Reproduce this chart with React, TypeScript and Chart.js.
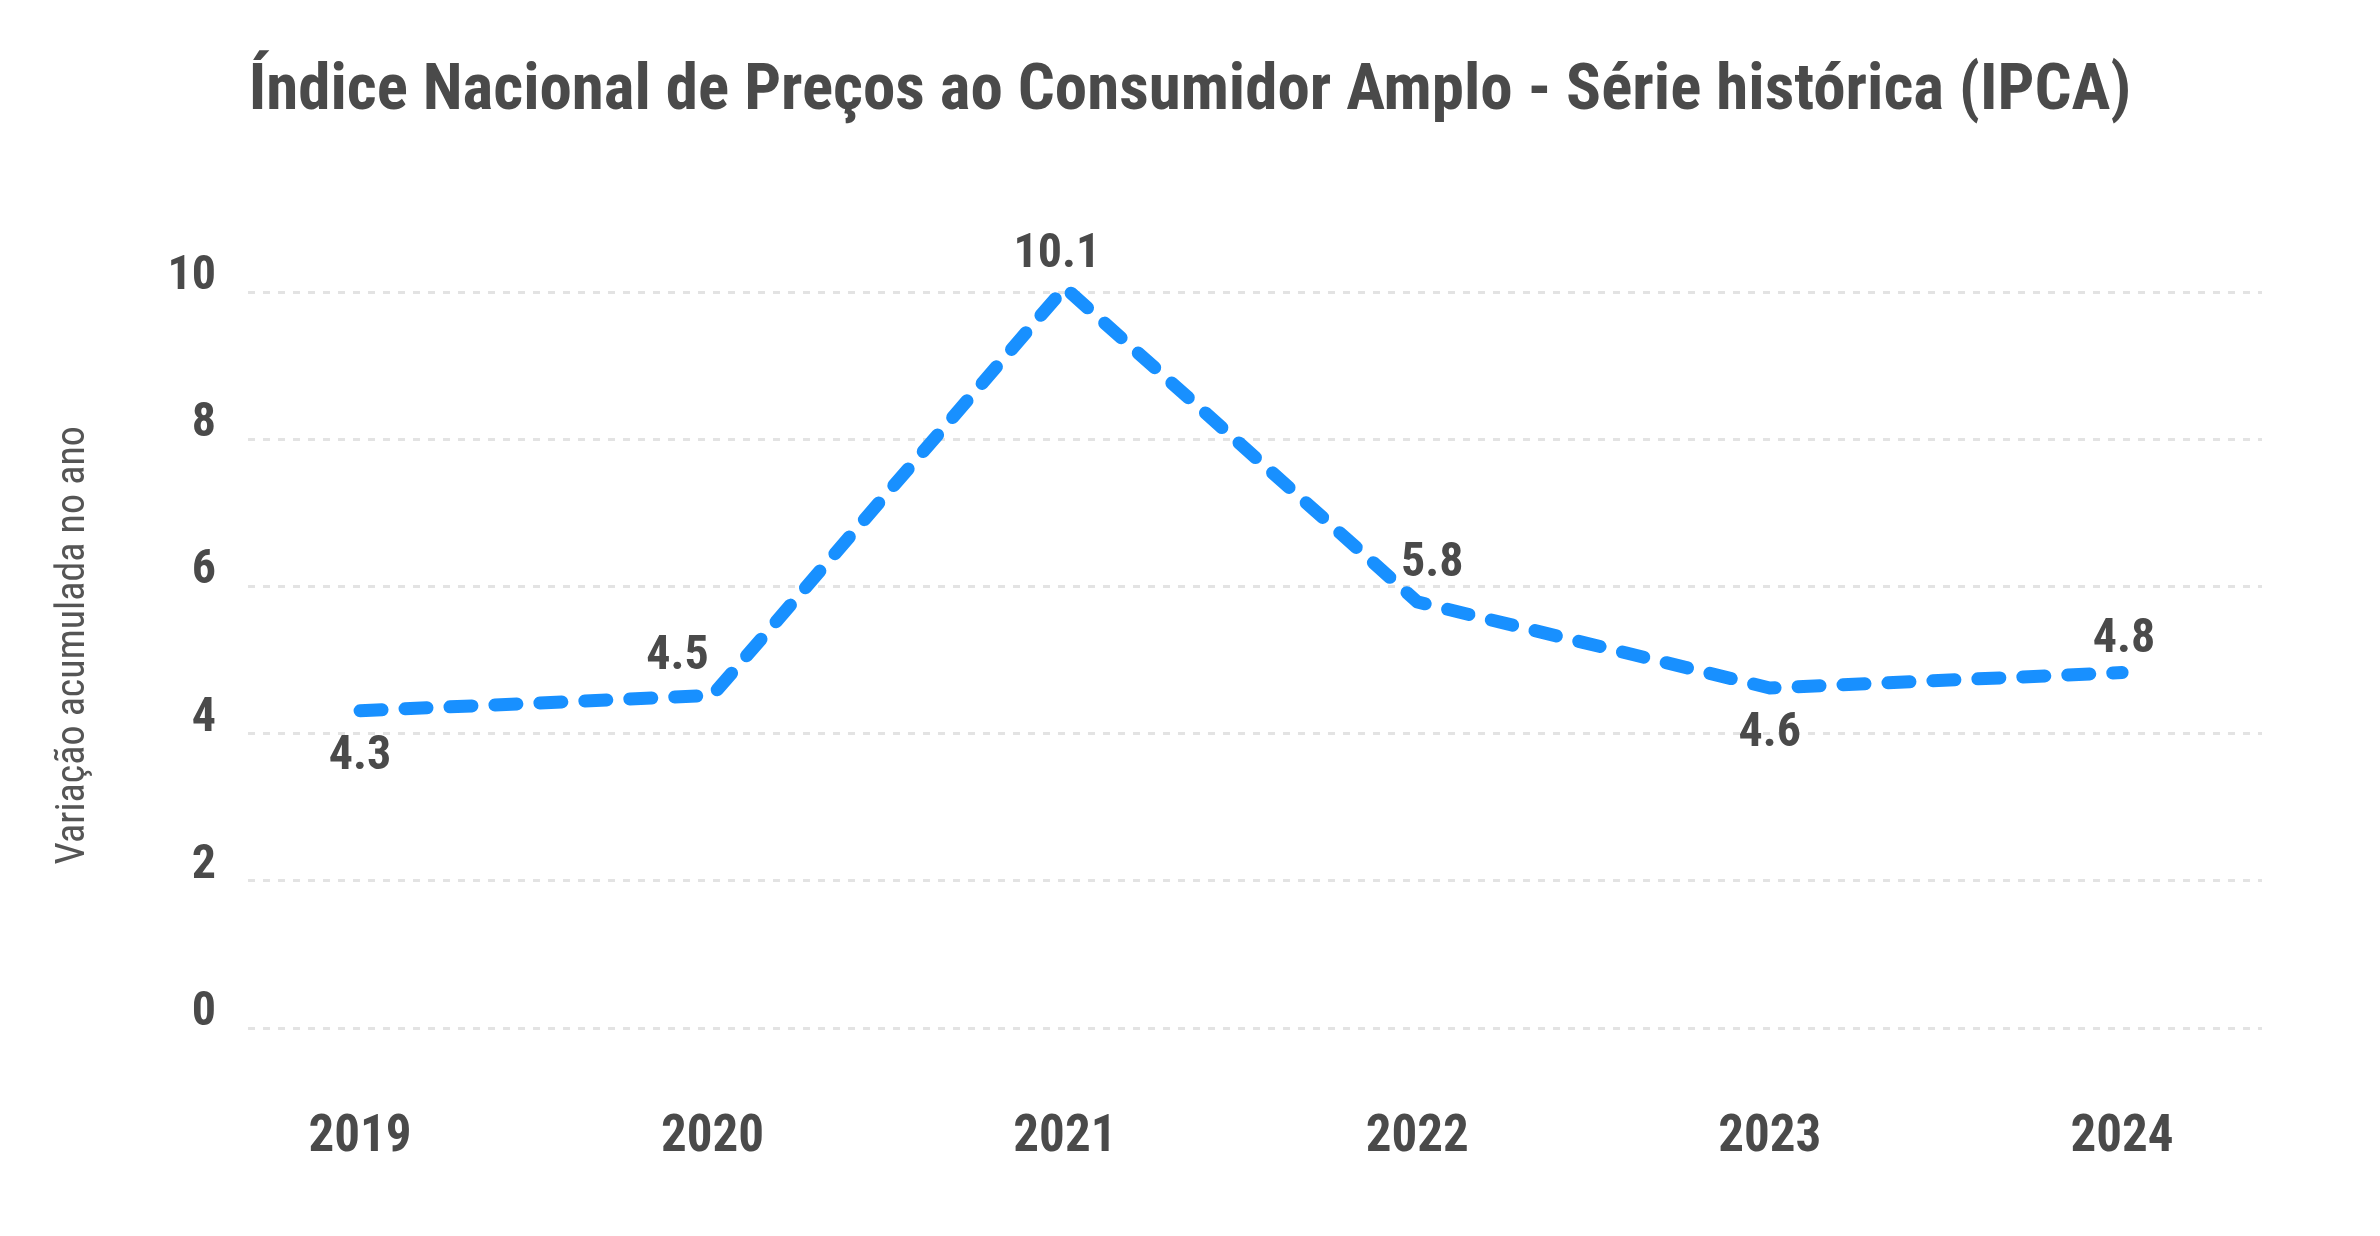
import React, { useEffect, useRef } from "react";
import { Chart, registerables } from "chart.js";

Chart.register(...registerables);

const TITLE = "Índice Nacional de Preços ao Consumidor Amplo - Série histórica (IPCA)";
const Y_TITLE = "Variação acumulada no ano";
const YEARS = ["2019", "2020", "2021", "2022", "2023", "2024"];
const IPCA = [4.31, 4.52, 10.06, 5.79, 4.62, 4.83];

const FONT = '"Roboto Condensed", "DejaVu Sans Condensed", sans-serif';
const TEXT = "#4a4a4a";
const LINE = "#1890ff";

const dataLabels = {
  id: "dataLabels",
  afterDatasetsDraw(chart: any) {
    const ctx = chart.ctx;
    const meta = chart.getDatasetMeta(0);
    const vals: number[] = chart.data.datasets[0].data.map((d: any) => d.y);
    ctx.save();
    ctx.font = `bold 48px ${FONT}`;
    ctx.fillStyle = TEXT;
    ctx.textAlign = "center";
    ctx.textBaseline = "middle";
    meta.data.forEach((pt: any, i: number) => {
      const v = vals[i];
      const nb: number[] = [];
      if (i > 0) nb.push(vals[i - 1]);
      if (i < vals.length - 1) nb.push(vals[i + 1]);
      const below = nb.every((n) => n > v);
      let dx = 0;
      let dy = below ? 46 : -38;
      if (!below) {
        const leftHigher = i > 0 && vals[i - 1] > v;
        const rightHigher = i < vals.length - 1 && vals[i + 1] > v;
        if (rightHigher && !leftHigher) dx = -35;
        if (leftHigher && !rightHigher) dx = 15;
        if (!leftHigher && !rightHigher) {
          dy = -33;
          dx = i === vals.length - 1 ? 2 : -8;
        }
      }
      ctx.fillText(v.toFixed(1), pt.x + dx, pt.y + dy);
    });
    ctx.restore();
  },
};

export default function App() {
  const ref = useRef<HTMLCanvasElement | null>(null);
  useEffect(() => {
    document.body.style.margin = "0";
    const canvas = ref.current!;
    const points = YEARS.map((y, i) => ({ x: Number(y), y: IPCA[i] }));
    const chart = new Chart(canvas, {
      type: "line",
      data: {
        datasets: [
          {
            data: points,
            borderColor: LINE,
            borderWidth: 13,
            borderDash: [22, 23],
            borderCapStyle: "round",
            borderJoinStyle: "round",
            pointRadius: 0,
            pointHoverRadius: 0,
            tension: 0,
            fill: false,
            clip: false,
          } as any,
        ],
      },
      options: {
        animation: false,
        responsive: false,
        devicePixelRatio: 1,
        layout: { padding: { left: 0, right: 0, top: 0, bottom: 65 } },
        plugins: {
          legend: { display: false },
          tooltip: { enabled: false },
          title: {
            display: true,
            text: TITLE,
            color: TEXT,
            font: { family: FONT, size: 65, weight: "bold" },
            padding: { top: 54, bottom: 130.6 },
          },
        },
        scales: {
          x: {
            type: "linear",
            min: 2018.682,
            max: 2024.397,
            afterFit: (scale: any) => {
              scale.height = 143;
            },
            grid: { display: false, drawTicks: false },
            border: { display: false },
            ticks: {
              stepSize: 1,
              includeBounds: false,
              autoSkip: false,
              maxRotation: 0,
              padding: 80,
              color: TEXT,
              font: { family: FONT, size: 51, weight: "bold" },
              callback: (v: any) => {
                const idx = YEARS.indexOf(String(v));
                return idx >= 0 ? YEARS[idx] : "";
              },
            },
          },
          y: {
            min: 0,
            max: 10.4,
            afterFit: (scale: any) => {
              scale.width = 248;
            },
            grid: { color: "#e3e3e3", lineWidth: 3, drawTicks: false },
            border: { display: false, dash: [7, 8] },
            ticks: {
              stepSize: 2,
              includeBounds: false,
              padding: 32,
              labelOffset: -15,
              color: TEXT,
              font: { family: FONT, size: 48, weight: "bold" },
            },
            title: {
              display: true,
              text: Y_TITLE,
              color: "#555555",
              font: { family: FONT, size: 40, weight: "normal" },
              padding: { top: 50, bottom: 0 },
            },
          },
          yRight: {
            position: "right",
            display: true,
            afterFit: (scale: any) => {
              scale.width = 118;
            },
            grid: { display: false, drawTicks: false },
            border: { display: false },
            ticks: { display: false },
          },
        },
      } as any,
      plugins: [dataLabels],
    });
    return () => chart.destroy();
  }, []);
  return (
    <div style={{ width: 2380, height: 1236 }}>
      <canvas ref={ref} width={2380} height={1236} style={{ display: "block" }} />
    </div>
  );
}
